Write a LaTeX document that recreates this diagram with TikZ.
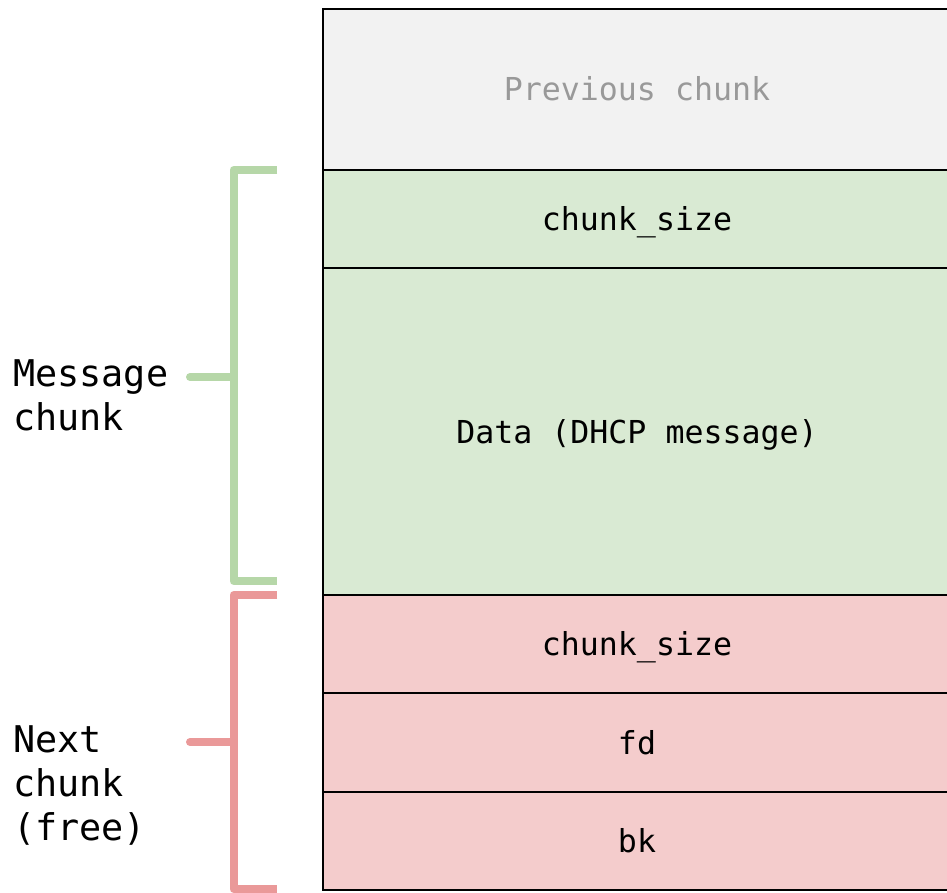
\documentclass[tikz,border=0pt]{standalone}
\usepackage{fontspec}
\newfontfamily\monofont{DejaVu Sans Mono}
\definecolor{prevfill}{HTML}{F2F2F2}
\definecolor{prevtext}{HTML}{999999}
\definecolor{msgfill}{HTML}{D9EAD3}
\definecolor{freefill}{HTML}{F4CCCC}
\definecolor{msgbrace}{HTML}{B6D7A8}
\definecolor{freebrace}{HTML}{EA9999}
\tikzset{
  cell/.style={draw=black, line width=1.5pt, minimum width=628pt, inner sep=0pt,
    text height=23pt, text depth=0pt,
    font=\monofont\fontsize{31.6}{38}\selectfont},
  sidelabel/.style={anchor=base west, align=left, inner sep=0pt,
    font=\monofont\fontsize{36.8}{44}\selectfont},
  brace/.style={line width=8pt, line join=round, line cap=butt},
  braceTick/.style={line width=8pt, line cap=round},
}
\begin{document}
\begin{tikzpicture}[x=1pt,y=-1pt]
\clip (0,0) rectangle (947,893);
\fill[white] (0,0) rectangle (947,893);
% memory layout, top to bottom
\node[cell, fill=prevfill, text=prevtext, minimum height=161pt] (prev) at (637,89.5) {Previous chunk};
\node[cell, fill=msgfill, minimum height=98pt] (msize) at (637,219) {chunk\_size};
\node[cell, fill=msgfill, minimum height=327pt] (mdata) at (637,431.5) {Data (DHCP message)};
\node[cell, fill=freefill, minimum height=98pt] (fsize) at (637,644) {chunk\_size};
\node[cell, fill=freefill, minimum height=99pt] (ffd) at (637,742.5) {fd};
\node[cell, fill=freefill, minimum height=98pt] (fbk) at (637,841) {bk};
% side labels (anchored at the baseline of their last line)
\node[sidelabel] (msglabel) at (13,430) {Message\\chunk};
\node[sidelabel] (freelabel) at (13,840) {Next\\chunk\\(free)};
% brackets
\coordinate (mtop) at (277,170);
\coordinate (mbot) at (277,581);
\coordinate (mmid) at (233.5,377);
\coordinate (ftop) at (277,595);
\coordinate (fbot) at (277,889);
\coordinate (fmid) at (233.5,742);
\draw[brace, msgbrace] (mtop) -- (233.5,170) -- (233.5,581) -- (mbot);
\draw[braceTick, msgbrace] (190,377) -- (mmid);
\draw[brace, freebrace] (ftop) -- (233.5,595) -- (233.5,889) -- (fbot);
\draw[braceTick, freebrace] (190,742) -- (fmid);
\end{tikzpicture}
\end{document}
